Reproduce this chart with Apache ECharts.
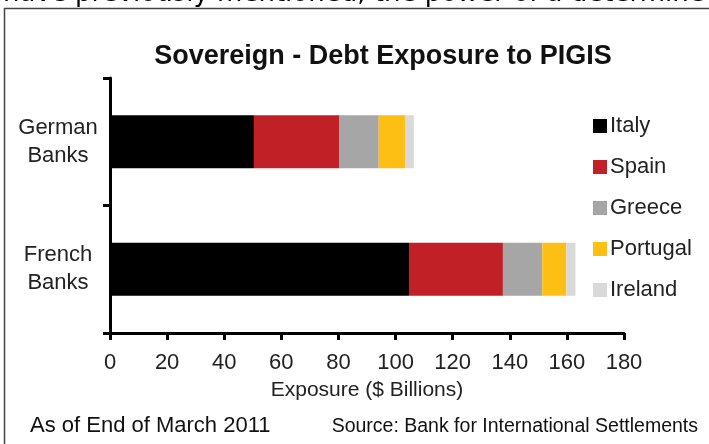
<!DOCTYPE html>
<html>
<head>
<meta charset="utf-8">
<script src="https://cdn.jsdelivr.net/npm/echarts@6/dist/echarts.min.js"></script>
<style>
html,body{margin:0;padding:0;background:#fff;}
#chart{width:709px;height:444px;}
</style>
</head>
<body>
<div id="chart"></div>
<script>
const categories = ['German\nBanks', 'French\nBanks'];
const italy    = [50.4, 104.7];
const spain    = [29.8, 32.9];
const greece   = [13.9, 13.8];
const portugal = [9.2, 8.4];
const ireland  = [3.1, 3.2];
const seriesNames = ['Italy', 'Spain', 'Greece', 'Portugal', 'Ireland'];
const seriesColors = ['#000000', '#c02026', '#a6a6a6', '#fdbf13', '#d9d9d9'];
const seriesData = [italy, spain, greece, portugal, ireland];
const xTicks = { min: 0, max: 180, interval: 20 };

const FONT = '"Liberation Sans", Arial, sans-serif';
const chart = echarts.init(document.getElementById('chart'), null, { renderer: 'canvas' });

chart.setOption({
  animation: false,
  backgroundColor: '#ffffff',
  title: {
    text: 'Sovereign - Debt Exposure to PIGIS',
    left: 378, top: 38, textAlign: 'center',
    textStyle: { fontFamily: FONT, fontSize: 27, fontWeight: 'bold', color: '#111' }
  },
  legend: {
    orient: 'vertical', left: 588, top: 110,
    itemWidth: 14, itemHeight: 14, itemGap: 19,
    icon: 'rect',
    textStyle: { fontFamily: FONT, fontSize: 22, color: '#222', lineHeight: 22, padding: [0, 0, 0, -2] },
    data: seriesNames
  },
  grid: { left: 110, right: 85, top: 78, bottom: 111, containLabel: false },
  xAxis: {
    type: 'value', min: xTicks.min, max: xTicks.max, interval: xTicks.interval,
    name: 'Exposure ($ Billions)', nameLocation: 'middle', nameGap: 47,
    nameTextStyle: { fontFamily: FONT, fontSize: 21, color: '#222' },
    axisLine: { show: true, lineStyle: { color: '#000', width: 3 } },
    axisTick: { show: true, length: 7, lineStyle: { color: '#000', width: 3 } },
    axisLabel: { fontFamily: FONT, fontSize: 22, color: '#222', margin: 19 },
    splitLine: { show: false }
  },
  yAxis: {
    type: 'category', data: categories, inverse: true,
    axisLine: { show: true, lineStyle: { color: '#000', width: 3 } },
    axisTick: { show: true, length: 7, lineStyle: { color: '#000', width: 3 } },
    axisLabel: { fontFamily: FONT, fontSize: 22, color: '#222', margin: 52, lineHeight: 28, align: 'center' }
  },
  series: seriesNames.map((n, i) => ({
    name: n, type: 'bar', stack: 'total', barWidth: 53,
    data: seriesData[i],
    itemStyle: { color: seriesColors[i] },
    emphasis: { disabled: true }
  })),
  graphic: [
    { type: 'polyline', shape: { points: [[4.5, 444], [4.5, 8.5], [709, 8.5]] },
      style: { stroke: '#444', lineWidth: 1.5, fill: null }, silent: true },
    { type: 'text', left: 3, top: -19,
      style: { text: 'have previously mentioned, the power of a determined', font: '26px "DejaVu Sans"', fill: '#000' }, silent: true },
    { type: 'text', left: 30, top: 415,
      style: { text: 'As of End of March 2011', font: '22px "Liberation Sans", Arial', fill: '#111' }, silent: true },
    { type: 'text', right: 11, top: 417,
      style: { text: 'Source: Bank for International Settlements', font: '19.5px "Liberation Sans", Arial', fill: '#111' }, silent: true }
  ]
});
</script>
</body>
</html>
